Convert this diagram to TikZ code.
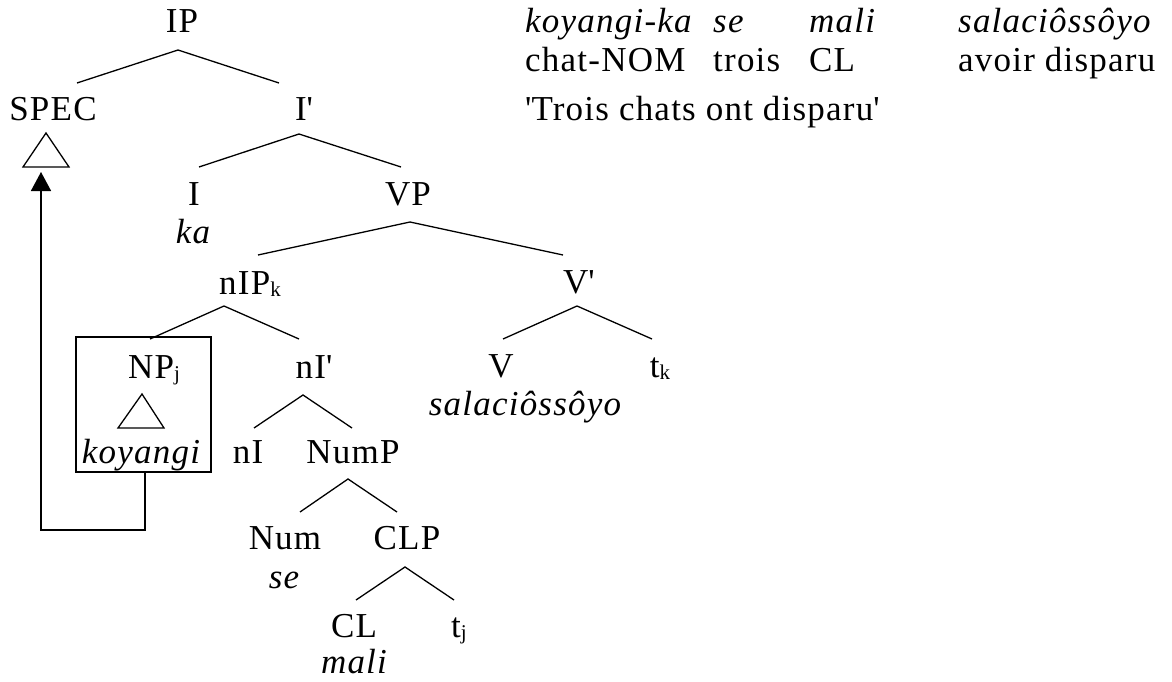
\documentclass[tikz,border=0pt]{standalone}
\usepackage{fontspec}
\setmainfont{Liberation Serif}[LetterSpace=3.5]
\usetikzlibrary{arrows.meta}
\newcommand\sbs[1]{\raisebox{-2pt}{\fontsize{21pt}{21pt}\selectfont #1}}
\newcommand\sq{\textquotesingle}
\begin{document}
\begin{tikzpicture}[x=1pt,y=-1pt,
  lab/.style={anchor=base,inner sep=0pt,font=\fontsize{35pt}{42pt}\selectfont},
  hdr/.style={anchor=base west,inner sep=0pt,font=\fontsize{35pt}{42pt}\selectfont},
  branch/.style={line width=1.3pt,line join=miter},
  tri/.style={line width=1.3pt,line join=miter},
  movebox/.style={draw,line width=1.6pt,inner sep=0pt,minimum width=135pt,minimum height=135pt},
  movearrow/.style={line width=1.6pt,-{Triangle[length=19pt,width=20pt]}}]
\useasboundingbox (0,0) rectangle (1172,682);
% tree labels
\node[lab] (IP) at (182,33) {IP};
\node[lab] (SPEC) at (53,121) {SPEC};
\node[lab] (Ib) at (304,121) {I\sq};
\node[lab] (I) at (194,205) {I};
\node[lab] (VP) at (408,205) {VP};
\node[lab] (ka) at (193,243) {\itshape ka};
\node[lab] (nIP) at (250,294) {nIP\sbs{k}};
\node[lab] (Vb) at (579,293) {V\sq};
\node[lab] (NP) at (154,378) {NP\sbs{j}};
\node[lab] (nIb) at (314,378) {nI\sq};
\node[lab] (V) at (501,377) {V};
\node[lab] (tk) at (660,377) {t\sbs{k}};
\node[lab] (sal) at (525,415) {\itshape salaciôssôyo};
\node[lab] (koy) at (141,463) {\itshape koyangi};
\node[lab] (nI) at (248,463) {nI};
\node[lab] (NumP) at (353,463) {NumP};
\node[lab] (Num) at (285,549) {Num};
\node[lab] (CLP) at (407,549) {CLP};
\node[lab] (se) at (284,588) {\itshape se};
\node[lab] (CL) at (354,637) {CL};
\node[lab] (tj) at (459,637) {t\sbs{j}};
\node[lab] (mali) at (354,673) {\itshape mali};
% header gloss
\node[hdr] (h1a) at (525,33) {\itshape koyangi-ka};
\node[hdr] (h1b) at (713,33) {\itshape se};
\node[hdr] (h1c) at (809,33) {\itshape mali};
\node[hdr] (h1d) at (958,33) {\itshape salaciôssôyo};
\node[hdr] (h2a) at (525,72) {chat-NOM};
\node[hdr] (h2b) at (713,72) {trois};
\node[hdr] (h2c) at (809,72) {CL};
\node[hdr] (h2d) at (958,72) {avoir disparu};
\node[hdr] (h3) at (525,121) {\sq Trois chats ont disparu\sq};
% branch points
\coordinate (IPa) at (178,50); \coordinate (IPl) at (77,83); \coordinate (IPr) at (279,83);
\coordinate (Iba) at (299,134); \coordinate (Ibl) at (199,167); \coordinate (Ibr) at (401,167);
\coordinate (VPa) at (410,222); \coordinate (VPl) at (258,255); \coordinate (VPr) at (563,255);
\coordinate (nIPa) at (224,306); \coordinate (nIPl) at (150,339); \coordinate (nIPr) at (299,339);
\coordinate (Vba) at (577,306); \coordinate (Vbl) at (503,339); \coordinate (Vbr) at (652,339);
\coordinate (nIba) at (303,395); \coordinate (nIbl) at (254,428); \coordinate (nIbr) at (352,428);
\coordinate (NumPa) at (348,479); \coordinate (NumPl) at (300,512); \coordinate (NumPr) at (397,512);
\coordinate (CLPa) at (405,567); \coordinate (CLPl) at (356,600); \coordinate (CLPr) at (454,600);
\draw[branch] (IPl) -- (IPa) -- (IPr);
\draw[branch] (Ibl) -- (Iba) -- (Ibr);
\draw[branch] (VPl) -- (VPa) -- (VPr);
\draw[branch] (nIPl) -- (nIPa) -- (nIPr);
\draw[branch] (Vbl) -- (Vba) -- (Vbr);
\draw[branch] (nIbl) -- (nIba) -- (nIbr);
\draw[branch] (NumPl) -- (NumPa) -- (NumPr);
\draw[branch] (CLPl) -- (CLPa) -- (CLPr);
% triangles
\coordinate (st1) at (46,133); \coordinate (st2) at (23,167); \coordinate (st3) at (69,167);
\draw[tri] (st1) -- (st2) -- (st3) -- cycle;
\coordinate (nt1) at (142,394); \coordinate (nt2) at (118,428); \coordinate (nt3) at (164,428);
\draw[tri] (nt1) -- (nt2) -- (nt3) -- cycle;
% box and movement arrow
\node[movebox] (box) at (143.5,404.5) {};
\coordinate (bend1) at (145,530); \coordinate (bend2) at (41,530); \coordinate (tip) at (41,172);
\draw[movearrow] (box.south -| bend1) -- (bend1) -- (bend2) -- (tip);
\end{tikzpicture}
\end{document}
